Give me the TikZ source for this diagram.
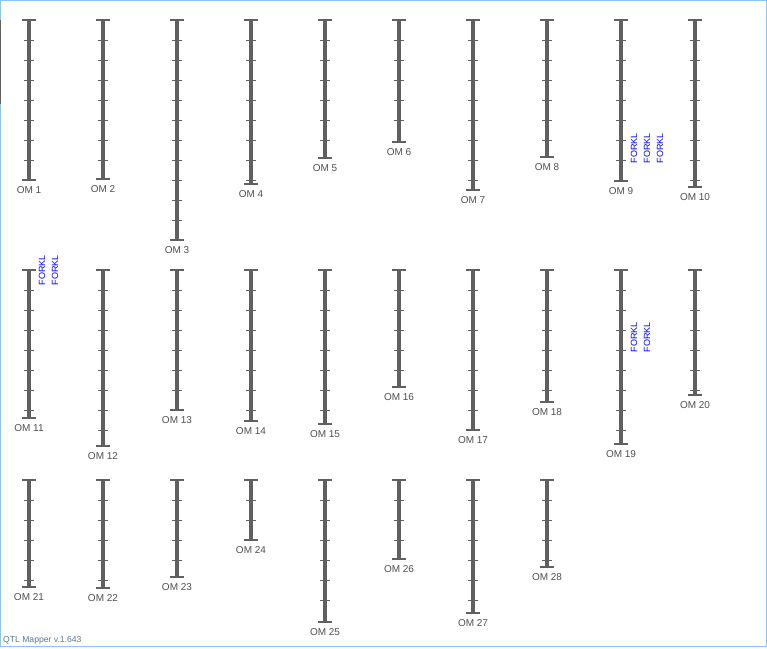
\documentclass[tikz,border=0pt]{standalone}
\usepackage{fontspec}
\setmainfont{Liberation Sans}
\usetikzlibrary{positioning}
\definecolor{omgray}{HTML}{606060}
\definecolor{omtext}{HTML}{505050}
\definecolor{frameblue}{HTML}{8CC6EE}
\definecolor{verblue}{HTML}{56789A}

\begin{document}
\begin{tikzpicture}[
  x=1pt, y=-1pt,
  chrom/.style={draw=omgray,line width=4.3pt},
  tick/.style={draw=omgray,line width=0.9pt},
  endcap/.style={draw=omgray,line width=1.3pt},
  omlabel/.style={inner sep=0pt,text=omtext,font=\fontsize{10}{12}\selectfont},
  forkl/.style={inner sep=0pt,rotate=90,text=blue,font=\fontsize{9}{10}\selectfont},
  version/.style={inner sep=0pt,anchor=west,text=verblue,font=\fontsize{8.6}{10}\selectfont}
  ]
  \useasboundingbox (0,0) rectangle (767,648);
  \fill[white] (0,0) rectangle (767,648);
  \draw[frameblue,line width=1pt] (0.5,0.5) rectangle (766.5,646.5);
  \draw[omgray,line width=1pt] (0.5,20) -- (0.5,104);
  % chromosomes: number / x / top / bottom
  \foreach \n/\x/\t/\b in {1/29/20/180, 2/103/20/179, 3/177/20/240, 4/251/20/184,
      5/325/20/158, 6/399/20/142, 7/473/20/190, 8/547/20/157, 9/621/20/181,
      10/695/20/187,
      11/29/270/418, 12/103/270/446, 13/177/270/410, 14/251/270/421,
      15/325/270/424, 16/399/270/387, 17/473/270/430, 18/547/270/402,
      19/621/270/444, 20/695/270/395,
      21/29/480/587, 22/103/480/588, 23/177/480/577, 24/251/480/540,
      25/325/480/622, 26/399/480/559, 27/473/480/613, 28/547/480/567} {
    \coordinate (top\n) at (\x,\t);
    \coordinate (bot\n) at (\x,\b);
    \draw[chrom] (top\n) -- (bot\n);
    \pgfmathtruncatemacro{\cnt}{(\b-\t-4)/20}
    \foreach \k in {1,...,\cnt}
      \draw[tick] (\x-5,\t+20*\k) -- (\x+5,\t+20*\k);
    \draw[endcap] ([xshift=-7pt]top\n) -- ([xshift=7pt]top\n);
    \draw[endcap] ([xshift=-7pt]bot\n) -- ([xshift=7pt]bot\n);
    \node[omlabel,below=6pt of bot\n] (om\n) {OM \n};
  }
  % trait labels
  \node[forkl] (fk9a) at (634,148) {FORKL};
  \node[forkl] (fk9b) at (647,148) {FORKL};
  \node[forkl] (fk9c) at (660,148) {FORKL};
  \node[forkl] (fk11a) at (42,270) {FORKL};
  \node[forkl] (fk11b) at (55,270) {FORKL};
  \node[forkl] (fk19a) at (634,337) {FORKL};
  \node[forkl] (fk19b) at (647,337) {FORKL};
  \node[version] (ver) at (3,640) {QTL Mapper v.1.643};
\end{tikzpicture}
\end{document}
